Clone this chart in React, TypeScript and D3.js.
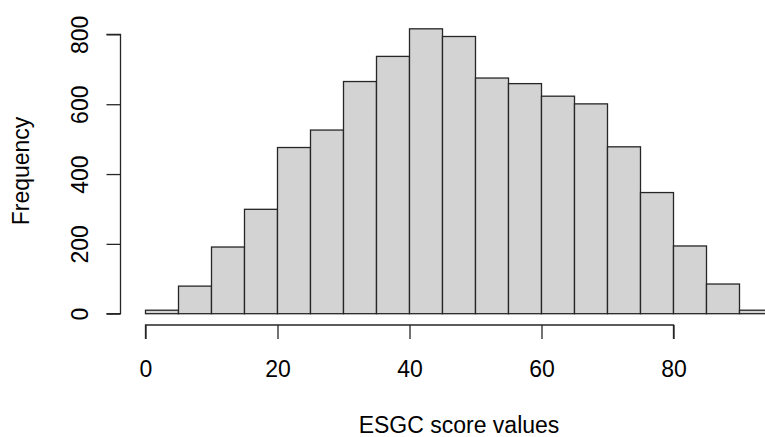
import React, { useRef, useEffect } from "react";
import * as d3 from "d3";

const binStarts = [0, 5, 10, 15, 20, 25, 30, 35, 40, 45, 50, 55, 60, 65, 70, 75, 80, 85, 90];
const binWidth = 5;
const counts = [10, 79, 191, 299, 476, 526, 665, 737, 816, 794, 675, 659, 623, 601, 478, 347, 194, 85, 10];
const xTicks = [0, 20, 40, 60, 80];
const yTicks = [0, 200, 400, 600, 800];
const xTitle = "ESGC score values";
const yTitle = "Frequency";

const App = () => {
  const ref = useRef<HTMLDivElement>(null);

  useEffect(() => {
    const width = 765;
    const height = 437;
    const font = "'Liberation Sans', Arial, sans-serif";
    const fontSize = 23;
    const stroke = "#262626";

    d3.select(ref.current).select("svg").remove();

    const svg = d3
      .select(ref.current)
      .append("svg")
      .attr("width", width)
      .attr("height", height)
      .style("position", "absolute")
      .style("left", "0px")
      .style("top", "0px")
      .style("background", "white");

    // plot region as R computes it (4% padding around data range)
    const xScale = d3.scaleLinear().domain([0, 80]).range([145.5, 673.5]);
    const yScale = d3.scaleLinear().domain([0, 800]).range([313.7, 34.4]);
    const axisY = 325;
    const axisX = 120.5;

    svg
      .append("g")
      .selectAll("rect")
      .data(counts)
      .enter()
      .append("rect")
      .attr("x", (d, i) => xScale(binStarts[i]))
      .attr("y", (d) => yScale(d))
      .attr("width", (d, i) => xScale(binStarts[i] + binWidth) - xScale(binStarts[i]))
      .attr("height", (d) => yScale(0) - yScale(d))
      .attr("fill", "#d3d3d3")
      .attr("stroke", stroke)
      .attr("stroke-width", 1.3);

    const xAxis = d3.axisBottom(xScale).tickValues(xTicks).tickSize(14).tickPadding(22).tickFormat(d3.format("d"));
    const gx = svg.append("g").attr("transform", `translate(0,${axisY})`).call(xAxis);
    gx.select(".domain").attr("d", `M${xScale(0)},14V0H${xScale(80)}V14`);

    const yAxis = d3.axisLeft(yScale).tickValues(yTicks).tickSize(14).tickFormat(d3.format("d"));
    const gy = svg.append("g").attr("transform", `translate(${axisX},0)`).call(yAxis);
    gy.select(".domain").attr("d", `M-14,${yScale(0)}H0V${yScale(800)}H-14`);

    [gx, gy].forEach((g) => {
      g.selectAll("path, line").attr("stroke", stroke).attr("stroke-width", 1.3);
      g.selectAll("text")
        .attr("fill", "black")
        .style("font-family", font)
        .style("font-size", `${fontSize}px`);
    });

    gy.selectAll(".tick text")
      .attr("x", null)
      .attr("dy", null)
      .attr("text-anchor", "middle")
      .attr("transform", "translate(-32.5,0) rotate(-90)");

    svg
      .append("text")
      .attr("x", 459)
      .attr("y", 433)
      .attr("text-anchor", "middle")
      .style("font-family", font)
      .style("font-size", `${fontSize}px`)
      .text(xTitle);

    svg
      .append("text")
      .attr("transform", "translate(29,171) rotate(-90)")
      .attr("text-anchor", "middle")
      .style("font-family", font)
      .style("font-size", `${fontSize}px`)
      .text(yTitle);
  }, []);

  return <div ref={ref}></div>;
};

export default App;
